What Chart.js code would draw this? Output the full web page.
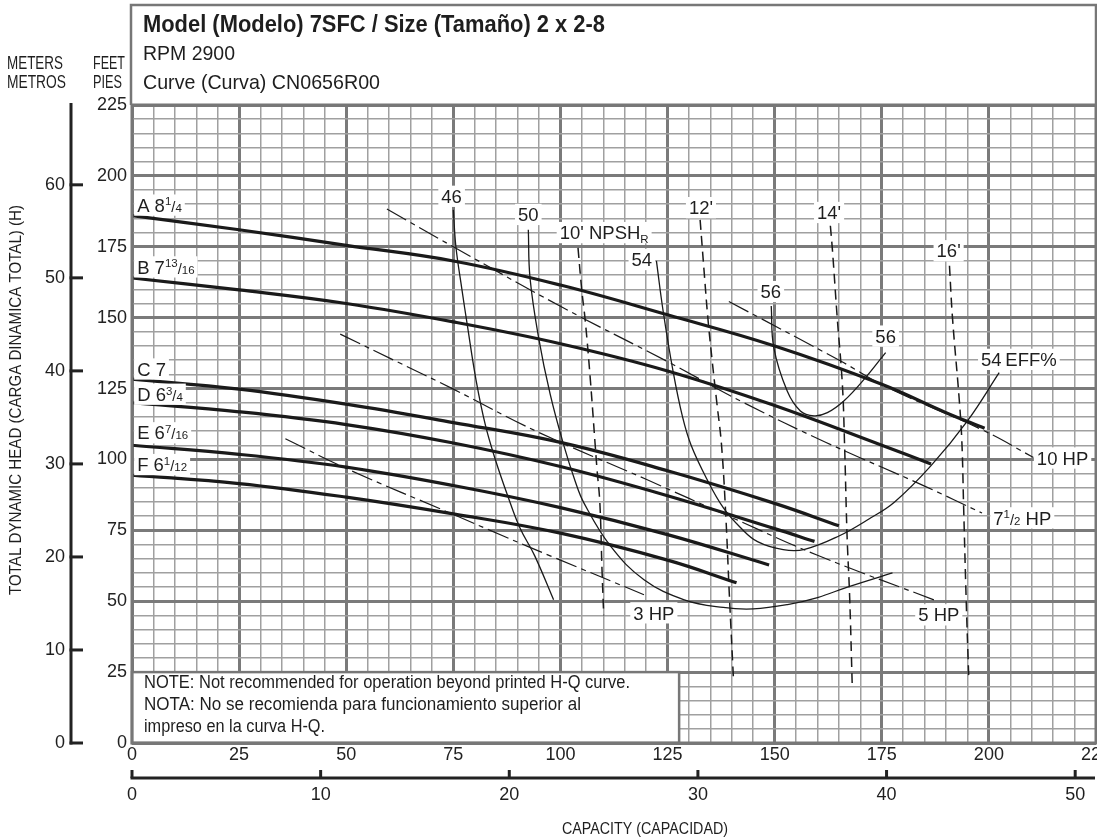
<!DOCTYPE html>
<html><head><meta charset="utf-8">
<script src="https://cdn.jsdelivr.net/npm/chart.js@4.4.1/dist/chart.umd.min.js"></script>
<style>html,body{margin:0;padding:0;background:#fff;overflow:hidden}#wrap{width:1097px;height:839px;position:relative}canvas{display:block}</style>
</head><body><div id="wrap"><canvas id="c" width="1097" height="839"></canvas></div>
<script>
// ---------- data (gpm, feet) ----------
const gpmTicks = [0,25,50,75,100,125,150,175,200,225];
const ftTicks = [0,25,50,75,100,125,150,175,200,225];
const meterTicks = [0,10,20,30,40,50,60];
const m3hTicks = [0,10,20,30,40,50];

const headA = [[0,186],[25,181],[50,175.5],[75,170],[100,161.5],[125,151],[150,140],[175,126.5],[190,116.5],[199,111]];
const headB = [[0,164],[25,159.8],[50,155],[75,148.5],[100,140.8],[125,131.2],[150,119],[175,105],[186.5,98.4]];
const headC = [[0,128.3],[25,124.8],[50,119.5],[75,113],[100,106],[125,96],[150,84.5],[165,76.6]];
const headD = [[0,120],[25,116.8],[50,112.3],[75,105.8],[100,97.5],[125,87.2],[150,75.6],[159.3,71.1]];
const headE = [[0,105],[25,101.8],[50,97.3],[75,90.8],[100,83],[125,73.5],[148.7,62.8]];
const headF = [[0,94.5],[25,91.5],[50,86.7],[75,80.8],[100,74],[125,64.5],[141.1,56.5]];

const eff46 = [[75,188],[75.6,175],[77,160],[78.3,147],[80.3,128],[82.5,112],[84.8,100],[87.5,88],[90.5,76],[94,66],[98.4,50.5]];
const eff50 = [[92.5,181],[92.9,164],[94.9,143],[97.6,123],[100.7,105.4],[103.4,92.5],[105.5,84.6],[111.7,69.4],[119.5,57.6],[128.9,50.5],[138,47.8],[145,47.3],[153,48.8],[160,51.3],[167,55],[177.5,60]];
const eff54 = [[122.4,170],[124,152],[126.3,131],[128.5,115],[130.5,105],[134.2,93],[138,83],[142,76],[146,71],[152,68.2],[157,68.3],[165,73],[172,79],[178,85],[186.5,97.8],[195,113.6],[202.4,130.6]];
const eff56 = [[149.2,154.1],[149.8,139.4],[152.9,124.2],[156,117.1],[159.2,115.4],[162.3,116.5],[166.2,120.7],[170.9,128.3],[175.9,137.7]];

const npsh10 = [[104.1,174.6],[105,159.4],[105.8,148.8],[107,127.7],[108.5,97.2],[109.2,84.6],[109.7,61.2],[110.1,45]];
const npsh12 = [[132.6,184.5],[133.6,165],[134.4,150],[135.4,135],[136.5,120],[137.6,105],[138.6,80],[139.4,53],[140.4,22]];
const npsh14 = [[163,182.4],[163.5,173.5],[164.6,150],[165.8,126.5],[166.3,106],[166.9,73],[167.5,51.7],[168.1,20.5]];
const npsh16 = [[190.8,168.3],[191.5,150],[193.1,120.7],[193.7,106],[194.1,83.5],[194.7,50.5],[195.3,23]];

const hp3 = [[35.8,107.3],[50.2,96.7],[74.7,80.8],[86.8,72.9],[97.6,66],[119.5,52.3]];
const hp5 = [[48.6,144.2],[62.5,134],[75,124.8],[95,109.5],[120,93],[140,79.5],[160,66.2],[188,50]];
const hp75 = [[59.5,188.3],[75,175],[100,154],[125,134.5],[142.8,120],[162,106],[185,90.6],[198.4,81.1]];
const hp10 = [[139.3,155.7],[165.4,134.7],[176.3,125.4],[198.9,110.1],[210.4,100.7]];

// ---------- text ----------
const FONT = '"Liberation Sans", Arial, sans-serif';
const FT_PER_M = 3.28084, GPM_PER_M3H = 4.40287;

const curveLabels = [
  {at:[1.2,189.7], align:'left', segs:[['A 8','n'],['1','sup'],['/','sl'],['4','den']]},
  {at:[1.2,167.9], align:'left', segs:[['B 7','n'],['13','sup'],['/','sl'],['16','den']]},
  {at:[1.2,131.9], align:'left', segs:[['C 7','n']]},
  {at:[1.2,123.0], align:'left', segs:[['D 6','n'],['3','sup'],['/','sl'],['4','den']]},
  {at:[1.2,109.4], align:'left', segs:[['E 6','n'],['7','sup'],['/','sl'],['16','den']]},
  {at:[1.2,98.2], align:'left', segs:[['F 6','n'],['1','sup'],['/','sl'],['12','den']]},
  {at:[74.6,192.8], segs:[['46','n']]},
  {at:[92.5,186.4], segs:[['50','n']]},
  {at:[110.2,180], segs:[["10' NPSH",'n'],['R','sub']]},
  {at:[119,170.5], segs:[['54','n']]},
  {at:[132.8,188.8], segs:[["12'",'n']]},
  {at:[162.7,187.1], segs:[["14'",'n']]},
  {at:[190.6,173.6], segs:[["16'",'n']]},
  {at:[149.1,159.2], segs:[['56','n']]},
  {at:[175.9,143.5], segs:[['56','n']]},
  {at:[207,135.3], segs:[['54','n'],['\u2009EFF%','n']]},
  {at:[217.2,100.5], segs:[['10 HP','n']]},
  {at:[207.8,79.4], segs:[['7','n'],['1','sup'],['/','sl'],['2','den'],[' HP','n']]},
  {at:[188.3,45.2], segs:[['5 HP','n']]},
  {at:[121.8,45.9], segs:[['3 HP','n']]}
];

function toXY(a){ return a.map(p => ({x:p[0], y:p[1]})); }
const isMajor = v => Math.abs(v % 25) < 1e-6;

const series = [
  [headA,3.2,[]],[headB,3.2,[]],[headC,3.2,[]],[headD,3.2,[]],[headE,3.2,[]],[headF,3.2,[]],
  [eff46,1.3,[]],[eff50,1.3,[]],[eff54,1.3,[]],[eff56,1.3,[]],
  [npsh10,1.5,[10,6]],[npsh12,1.5,[10,6]],[npsh14,1.5,[10,6]],[npsh16,1.5,[10,6]],
  [hp3,1.2,[22,5,5,5]],[hp5,1.2,[22,5,5,5]],[hp75,1.2,[22,5,5,5]],[hp10,1.2,[22,5,5,5]]
];

function fitText(ctx, text, x, y, font, width, align){
  ctx.save();
  ctx.font = font;
  const w = ctx.measureText(text).width;
  const s = width / w;
  ctx.translate(x, y);
  ctx.scale(s, 1);
  ctx.textAlign = align || 'left';
  ctx.textBaseline = 'middle';
  ctx.fillText(text, 0, 0);
  ctx.restore();
}

function drawRich(ctx, segs, px, py, S, align){
  const fonts = {n:S, sup:S*0.62, den:S*0.62, sub:S*0.62, sl:S*0.8};
  const offs = {n:0, sup:-S*0.34, den:0, sub:S*0.2, sl:0};
  let total = 0; const widths = [];
  segs.forEach(([t,k]) => { ctx.font = fonts[k] + 'px ' + FONT; const w = ctx.measureText(t).width; widths.push(w); total += w; });
  let x0 = align === 'left' ? px : px - total/2;
  const pad = 3, h = S*1.15;
  ctx.fillStyle = '#fff';
  ctx.fillRect(x0 - pad, py - h/2, total + 2*pad, h);
  ctx.fillStyle = '#1e1e1e';
  ctx.textAlign = 'left'; ctx.textBaseline = 'alphabetic';
  const base = py + S*0.36;
  let x = x0;
  segs.forEach(([t,k], i) => { ctx.font = fonts[k] + 'px ' + FONT; ctx.fillText(t, x, base + offs[k]); x += widths[i]; });
}

const deco = {
  id: 'deco',
  beforeDraw(chart){ const c = chart.ctx; c.save(); c.fillStyle = '#fff'; c.fillRect(0,0,chart.width,chart.height); c.restore(); },
  afterDatasetsDraw(chart){
    const ctx = chart.ctx, xs = chart.scales.x, ys = chart.scales.y, ms = chart.scales.m, qs = chart.scales.q;
    const ca = chart.chartArea;
    ctx.save();
    // note box
    const nx1 = xs.getPixelForValue(127.7), ny0 = ys.getPixelForValue(25);
    ctx.fillStyle = '#fff';
    ctx.fillRect(ca.left, ny0, nx1 - ca.left, ca.bottom - ny0);
    ctx.strokeStyle = '#777'; ctx.lineWidth = 2.5;
    ctx.strokeRect(ca.left, ny0, nx1 - ca.left, ca.bottom - ny0);
    ctx.fillStyle = '#1e1e1e';
    fitText(ctx, 'NOTE: Not recommended for operation beyond printed H-Q curve.', 144, ny0 + 11, '17.5px ' + FONT, 486);
    fitText(ctx, 'NOTA: No se recomienda para funcionamiento superior al', 144, ny0 + 33, '17.5px ' + FONT, 437);
    fitText(ctx, 'impreso en la curva H-Q.', 144, ny0 + 55, '17.5px ' + FONT, 181);
    // curve labels
    curveLabels.forEach(l => drawRich(ctx, l.segs, xs.getPixelForValue(l.at[0]), ys.getPixelForValue(l.at[1]), 18.5, l.align));
    // plot frame on top
    ctx.strokeStyle = '#777'; ctx.lineWidth = 3;
    ctx.strokeRect(ca.left, ca.top, ca.right - ca.left, ca.bottom - ca.top);
    // header box
    ctx.lineWidth = 2.5;
    ctx.beginPath(); ctx.moveTo(131, ca.top); ctx.lineTo(131, 5); ctx.lineTo(1096, 5); ctx.lineTo(1096, ca.top); ctx.stroke();
    ctx.fillStyle = '#1e1e1e';
    fitText(ctx, 'Model (Modelo) 7SFC / Size (Tamaño) 2 x 2-8', 143, 26, 'bold 23px ' + FONT, 462);
    fitText(ctx, 'RPM 2900', 143, 54, '21px ' + FONT, 92);
    fitText(ctx, 'Curve (Curva) CN0656R00', 143, 83, '21px ' + FONT, 237);
    // unit headers
    fitText(ctx, 'METERS', 7, 64, '18px ' + FONT, 56);
    fitText(ctx, 'METROS', 7, 83, '18px ' + FONT, 59);
    fitText(ctx, 'FEET', 93, 64, '18px ' + FONT, 32);
    fitText(ctx, 'PIES', 93, 83, '18px ' + FONT, 29);
    // meters axis
    ctx.strokeStyle = '#222'; ctx.lineWidth = 3;
    const xL = 71;
    ctx.beginPath(); ctx.moveTo(xL, 103); ctx.lineTo(xL, ms.getPixelForValue(0) + 1.5); ctx.stroke();
    ctx.font = '18px ' + FONT; ctx.textAlign = 'right'; ctx.textBaseline = 'middle';
    meterTicks.forEach(v => {
      const y = ms.getPixelForValue(v);
      ctx.beginPath(); ctx.moveTo(xL - 1.5, y); ctx.lineTo(83, y); ctx.stroke();
      ctx.fillText(String(v), 65, y);
    });
    // m3/h axis
    const yL = 778;
    ctx.beginPath(); ctx.moveTo(qs.getPixelForValue(0) - 1.5, yL); ctx.lineTo(1095, yL); ctx.stroke();
    ctx.textAlign = 'center';
    m3hTicks.forEach(v => {
      const x = qs.getPixelForValue(v);
      ctx.beginPath(); ctx.moveTo(x, yL); ctx.lineTo(x, yL - 8); ctx.stroke();
      ctx.fillText(String(v), x, 795);
    });
    // axis titles
    fitText(ctx, 'CAPACITY (CAPACIDAD)', 645, 829, '17px ' + FONT, 166, 'center');
    ctx.save(); ctx.translate(16, 400); ctx.rotate(-Math.PI/2);
    fitText(ctx, 'TOTAL DYNAMIC HEAD (CARGA DINAMICA TOTAL) (H)', 0, 0, '17px ' + FONT, 390, 'center');
    ctx.restore();
    ctx.restore();
  }
};

new Chart(document.getElementById('c').getContext('2d'), {
  type: 'scatter',
  data: { datasets: series.map(([d,w,dash]) => ({
    data: toXY(d), showLine: true, borderColor: '#1a1a1a', borderWidth: w, borderDash: dash,
    pointRadius: 0, pointHoverRadius: 0, tension: 0.4, fill: false
  })) },
  options: {
    responsive: false, animation: false, devicePixelRatio: 1,
    layout: { padding: { left: 0, right: 1, top: 105, bottom: 0 } },
    plugins: { legend: { display: false }, tooltip: { enabled: false } },
    events: [],
    scales: {
      x: {
        type: 'linear', min: 0, max: 225, position: 'bottom',
        ticks: { stepSize: 5, autoSkip: false, maxRotation: 0, padding: 1, color: '#222',
          font: { family: FONT, size: 18 }, callback: v => gpmTicks.includes(v) ? String(v) : '' },
        grid: { drawTicks: false, color: c => (c.tick && isMajor(c.tick.value)) ? '#7a7a7a' : '#a0a0a0',
          lineWidth: c => (c.tick && isMajor(c.tick.value)) ? 3 : 1.5 },
        border: { display: false },
        afterFit: s => { s.height = 96; s.paddingLeft = 0; s.paddingRight = 0; }
      },
      y: {
        type: 'linear', min: 0, max: 225, position: 'left',
        ticks: { stepSize: 5, autoSkip: false, padding: 5, color: '#222',
          font: { family: FONT, size: 18 }, callback: v => ftTicks.includes(v) ? String(v) : '' },
        grid: { drawTicks: false, color: c => (c.tick && isMajor(c.tick.value)) ? '#7a7a7a' : '#a0a0a0',
          lineWidth: c => (c.tick && isMajor(c.tick.value)) ? 3 : 1.5 },
        border: { display: false },
        afterFit: s => { s.width = 132; s.paddingTop = 0; s.paddingBottom = 0; }
      },
      m: { type: 'linear', display: false, position: 'left', min: 0, max: 225 / FT_PER_M },
      q: { type: 'linear', display: false, position: 'bottom', min: 0, max: 225 / GPM_PER_M3H }
    }
  },
  plugins: [deco]
});
</script>
</body></html>
